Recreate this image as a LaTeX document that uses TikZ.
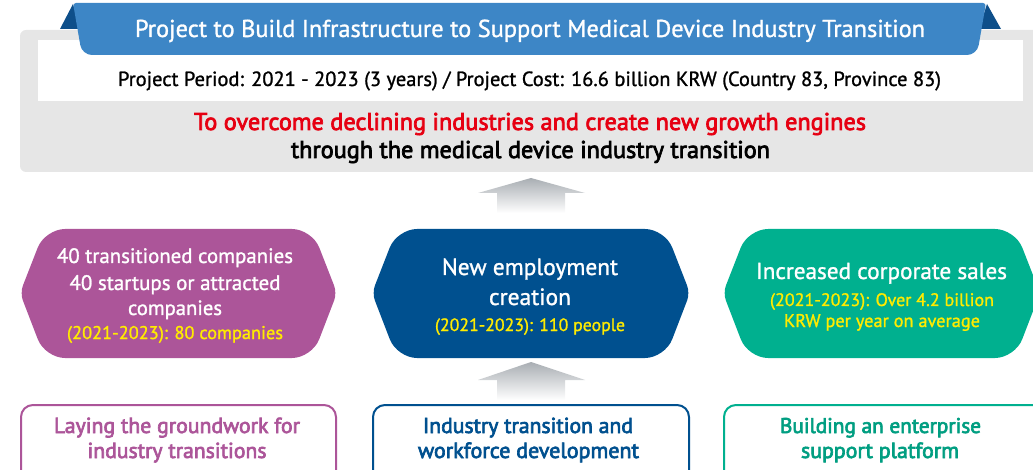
\documentclass[tikz,border=0pt]{standalone}
\usepackage{fontspec}
\setmainfont{PT Sans}
\newfontfamily\medfont[FakeBold=3]{PT Sans}
\newfontfamily\regfont[FakeBold=1.2]{PT Sans}
\definecolor{banner}{HTML}{3D86C6}
\definecolor{bannerdark}{HTML}{0E4F8A}
\definecolor{graybg}{HTML}{E6E6E6}
\definecolor{redtxt}{HTML}{E60012}
\definecolor{purp}{HTML}{AC5599}
\definecolor{navy}{HTML}{00508F}
\definecolor{teal}{HTML}{00B08F}
\definecolor{yel}{HTML}{FFEB00}
\definecolor{arrowgray}{HTML}{A9AEB3}
\newcommand\fitw[2]{\resizebox{#1pt}{!}{\regfont #2}}
\newcommand\fitm[2]{\resizebox{#1pt}{!}{\medfont #2}}
\begin{document}
\begin{tikzpicture}[x=1pt,y=-1pt,
  txt/.style={inner sep=0pt, anchor=base},
  upar/.style={top color=arrowgray, bottom color=white}]
\useasboundingbox (0,0) rectangle (1033,470);
\clip (0,0) rectangle (1033,470);
% top panel
\fill[graybg, rounded corners=6] (20,30) rectangle (1045,172);
\fill[white] (38,40) rectangle (1023,101);
\fill[bannerdark] (60,29) -- (73,4) -- (80,29) -- cycle;
\fill[bannerdark] (1001,29) -- (987,4) -- (979,29) -- cycle;
\fill[banner] [rounded corners=3] (73,3) -- (986,3) [rounded corners=10] -- (977,55) -- (82,55) [rounded corners=3] -- cycle;
\node[txt, text=white] (title) at (530,37) {\fitw{790}{Project to Build Infrastructure to Support Medical Device Industry Transition}};
\node[txt, text=black] (period) at (529.5,86) {\fitw{823}{Project Period: 2021 - 2023 (3 years) / Project Cost: 16.6 billion KRW (Country 83, Province 83)}};
\node[txt, text=redtxt] (goal1) at (530,130) {\fitm{672}{To overcome declining industries and create new growth engines}};
\node[txt, text=black] (goal2) at (530.5,158) {\fitm{479}{through the medical device industry transition}};
% arrows
\shade[upar] (531,178) -- (585,193) -- (565,193) -- (565,213) -- (497,213) -- (497,193) -- (478,193) -- cycle;
\shade[upar] (531,362) -- (585,380) -- (565,380) -- (565,400) -- (497,400) -- (497,380) -- (478,380) -- cycle;
% hexagons
\fill[purp] [rounded corners=8] (20,293) [rounded corners=20] -- (45,229) -- (312,229) [rounded corners=8] -- (337,293) [rounded corners=20] -- (312,358) -- (45,358) [rounded corners=8] -- cycle;
\fill[navy] [rounded corners=8] (372,293) [rounded corners=20] -- (397,229) -- (665,229) [rounded corners=8] -- (690,293) [rounded corners=20] -- (665,358) -- (397,358) [rounded corners=8] -- cycle;
\fill[teal] [rounded corners=8] (723,293) [rounded corners=20] -- (748,229) -- (1015,229) [rounded corners=8] -- (1040,293) [rounded corners=20] -- (1015,358) -- (748,358) [rounded corners=8] -- cycle;
\node[txt, text=white] (l1) at (175,263) {\fitw{236}{40 transitioned companies}};
\node[txt, text=white] (l2) at (175,290) {\fitw{211}{40 startups or attracted}};
\node[txt, text=white] (l3) at (175,315) {\fitw{94}{companies}};
\node[txt, text=yel] (l4) at (175,339) {\fitw{216}{(2021-2023): 80 companies}};
\node[txt, text=white] (c1) at (530,275) {\fitw{176}{New employment}};
\node[txt, text=white] (c2) at (530,305) {\fitw{82}{creation}};
\node[txt, text=yel] (c3) at (530,331) {\fitw{190}{(2021-2023): 110 people}};
\node[txt, text=white] (r1) at (881.5,279) {\fitw{251}{Increased corporate sales}};
\node[txt, text=yel] (r2) at (882,306) {\fitw{224}{(2021-2023): Over 4.2 billion}};
\node[txt, text=yel] (r3) at (882,327) {\fitw{196}{KRW per year on average}};
% bottom boxes
\draw[purp, line width=2, rounded corners=12, fill=white] (21,405) rectangle (336,490);
\draw[navy, line width=2, rounded corners=12, fill=white] (373,405) rectangle (689,490);
\draw[teal, line width=2, rounded corners=12, fill=white] (724,405) rectangle (1045,490);
\node[txt, text=purp] (b1) at (177,433) {\fitm{246}{Laying the groundwork for}};
\node[txt, text=purp] (b2) at (177,458) {\fitm{179}{industry transitions}};
\node[txt, text=navy] (b3) at (528,433) {\fitm{210}{Industry transition and}};
\node[txt, text=navy] (b4) at (528.5,458) {\fitm{221}{workforce development}};
\node[txt, text=teal!90!black] (b5) at (880.5,433) {\fitm{201}{Building an enterprise}};
\node[txt, text=teal!90!black] (b6) at (880,458) {\fitm{158}{support platform}};
\end{tikzpicture}
\end{document}
